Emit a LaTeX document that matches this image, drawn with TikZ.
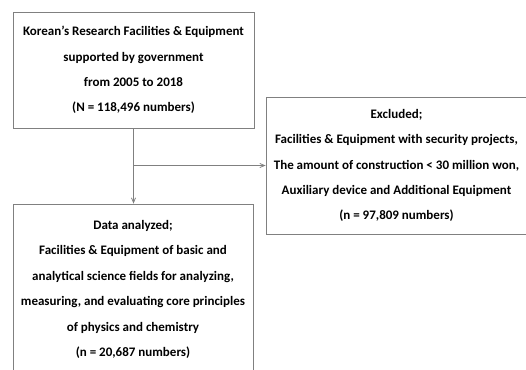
\documentclass[tikz,border=0pt]{standalone}
\usepackage{fontspec}
\setmainfont{Carlito}
\usetikzlibrary{arrows,positioning}
\tikzstyle{box}=[draw=gray,line width=0.8pt,align=center,inner sep=0pt,
                font=\bfseries\fontsize{13}{25.4}\selectfont]
\tikzstyle{line}=[draw=gray,line width=0.8pt,->,>=angle 45]
\begin{document}
\begin{tikzpicture}[x=1pt,y=-1pt]

% % % % % % % % % % % % % % %

\useasboundingbox (0,0) rectangle (526,369);
\clip (0,0) rectangle (526,369);

\node[box,minimum width=241pt,minimum height=116pt] (source) at (133.5,70)
  {Korean's Research Facilities \& Equipment\\
   supported by government\\
   from 2005 to 2018\\
   (N = 118,496 numbers)};

\node[box,minimum width=261pt,minimum height=137pt] (excluded) at (396.5,165.5)
  {Excluded;\\
   Facilities \& Equipment with security projects,\\
   The amount of construction < 30 million won,\\
   Auxiliary device and Additional Equipment\\
   (n = 97,809 numbers)};

\node[box,minimum width=240pt,minimum height=171pt] (analyzed) at (133,289.5)
  {Data analyzed;\\
   Facilities \& Equipment of basic and\\
   analytical science fields for analyzing,\\
   measuring, and evaluating core principles\\
   of physics and chemistry\\
   (n = 20,687 numbers)};

\coordinate (split) at (source.south |- excluded.west);
\draw[line] (source.south) -- (source.south |- analyzed.north);
\draw[line] (split) -- (excluded.west);

\end{tikzpicture}
\end{document}
